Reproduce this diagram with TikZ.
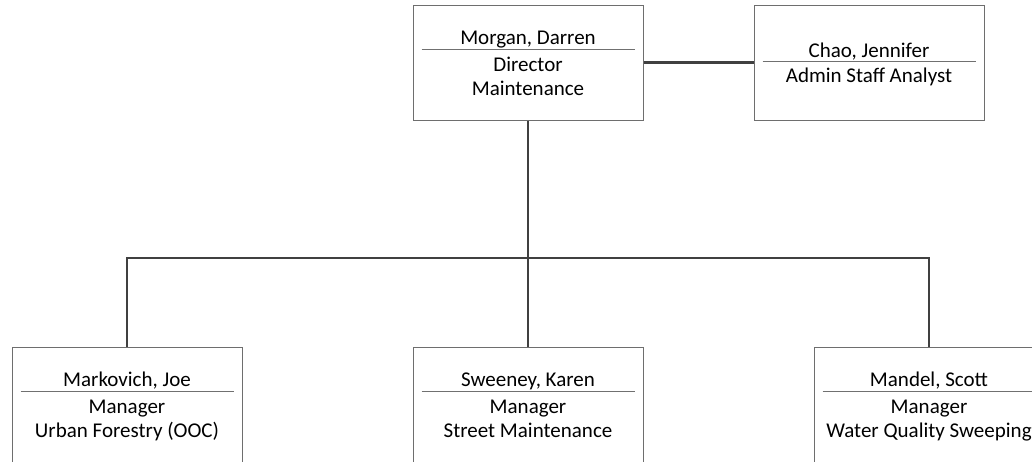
\documentclass[tikz,border=0pt]{standalone}
\usepackage{fontspec}
\setmainfont{Carlito}
\definecolor{boxline}{HTML}{6E6E6E}
\definecolor{conn}{HTML}{404040}
\definecolor{sepline}{HTML}{707070}
\tikzset{
  box/.style={draw=boxline, line width=1pt, minimum width=230pt, minimum height=115pt, inner sep=0pt},
  lowbox/.style={box, minimum height=125pt},
  txt/.style={anchor=base, inner sep=0pt, font=\fontsize{21pt}{24pt}\selectfont, text=black},
  link/.style={draw=conn, line width=2.8pt},
  sep/.style={draw=sepline, line width=1pt}
}
\begin{document}
\begin{tikzpicture}[x=1pt,y=1pt]
\useasboundingbox (0,0) rectangle (1032,-461);
\fill[white] (0,0) rectangle (1032,-461);
\begin{scope}
\clip (0,0) rectangle (1032,-461);
% top row
\node[box] (morgan) at (528,-62.5) {};
\node[box] (chao) at (869,-62.5) {};
% bottom row (cut by the page edge)
\node[lowbox] (markovich) at (127,-409.5) {};
\node[lowbox] (sweeney) at (528,-409.5) {};
\node[lowbox] (mandel) at (929,-409.5) {};

% Morgan
\node[txt] (morganN) at ([yshift=-40pt]morgan.north) {Morgan, Darren};
\draw[sep] ([xshift=9pt,yshift=-45pt]morgan.north west) -- ([xshift=-9pt,yshift=-45pt]morgan.north east);
\node[txt] (morganT) at ([yshift=-67pt]morgan.north) {Director};
\node[txt] (morganD) at ([yshift=-91pt]morgan.north) {Maintenance};

% Chao
\node[txt] (chaoN) at ([yshift=-53pt]chao.north) {Chao, Jennifer};
\draw[sep] ([xshift=9pt,yshift=-57pt]chao.north west) -- ([xshift=-9pt,yshift=-57pt]chao.north east);
\node[txt] (chaoT) at ([yshift=-78pt]chao.north) {Admin Staff Analyst};

% Markovich
\node[txt] (markN) at ([yshift=-40pt]markovich.north) {Markovich, Joe};
\draw[sep] ([xshift=9pt,yshift=-45pt]markovich.north west) -- ([xshift=-9pt,yshift=-45pt]markovich.north east);
\node[txt] (markT) at ([yshift=-67pt]markovich.north) {Manager};
\node[txt] (markD) at ([yshift=-91pt]markovich.north) {Urban Forestry (OOC)};

% Sweeney
\node[txt] (sweeN) at ([yshift=-40pt]sweeney.north) {Sweeney, Karen};
\draw[sep] ([xshift=9pt,yshift=-45pt]sweeney.north west) -- ([xshift=-9pt,yshift=-45pt]sweeney.north east);
\node[txt] (sweeT) at ([yshift=-67pt]sweeney.north) {Manager};
\node[txt] (sweeD) at ([yshift=-91pt]sweeney.north) {Street Maintenance};

% Mandel
\node[txt] (mandN) at ([yshift=-40pt]mandel.north) {Mandel, Scott};
\draw[sep] ([xshift=9pt,yshift=-45pt]mandel.north west) -- ([xshift=-9pt,yshift=-45pt]mandel.north east);
\node[txt] (mandT) at ([yshift=-67pt]mandel.north) {Manager};
\node[txt] (mandD) at ([yshift=-91pt]mandel.north) {Water Quality Sweeping};

% connectors
\coordinate (bus) at (528,-258);
\draw[link] (morgan.east) -- (chao.west);
\draw[link] (morgan.south) -- (bus);
\draw[link] (bus) -- (sweeney.north);
\draw[link] (markovich.north) |- (bus);
\draw[link] (mandel.north) |- (bus);
\end{scope}
\end{tikzpicture}
\end{document}
